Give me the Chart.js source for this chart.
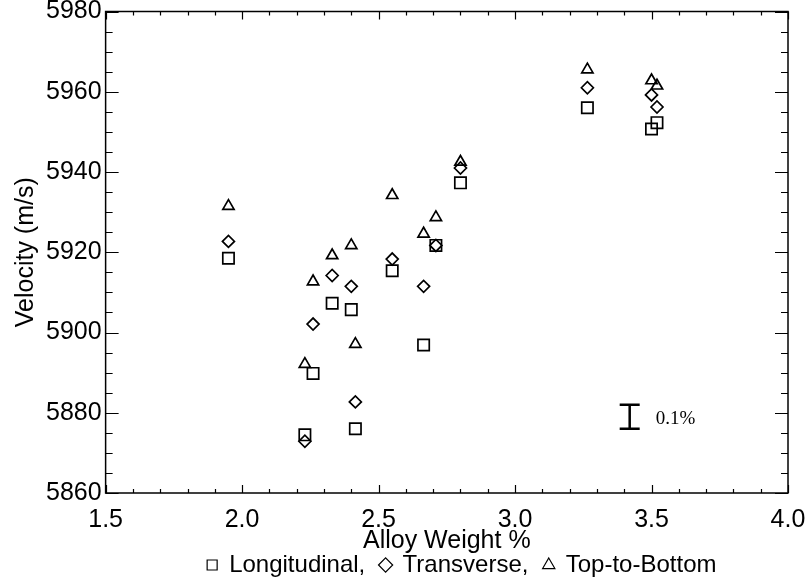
<!DOCTYPE html>
<html>
<head>
<meta charset="utf-8">
<title>Velocity vs Alloy Weight</title>
<script src="https://cdn.jsdelivr.net/npm/chart.js@4.4.1/dist/chart.umd.min.js"></script>
<style>
    html, body { margin: 0; padding: 0; background: #fff; }
    #wrap { width: 810px; height: 577px; }
</style>
</head>
<body>
<div id="wrap"><canvas id="chart"></canvas></div>
<script>
// Alloy weight % of each sample (same order in every series)
const alloyWeight = [1.95, 2.23, 2.26, 2.33, 2.40, 2.415, 2.55, 2.665, 2.71, 2.80, 3.265, 3.50, 3.52];

// Velocity (m/s) per direction
const longitudinal = [5918.5, 5874.5, 5889.8, 5907.3, 5905.7, 5876.0, 5915.4, 5896.9, 5921.7, 5937.3, 5956.0, 5950.7, 5952.3];
const transverse   = [5922.7, 5872.9, 5902.1, 5914.2, 5911.5, 5882.7, 5918.3, 5911.5, 5921.7, 5941.0, 5961.0, 5959.2, 5956.2];
const topToBottom  = [5931.5, 5892.1, 5912.7, 5919.2, 5921.7, 5897.1, 5934.2, 5924.6, 5928.7, 5942.5, 5965.5, 5962.8, 5961.5];

const seriesLabels = ['Longitudinal', 'Transverse', 'Top-to-Bottom'];

// Axis ranges and ticks
const xRange = [1.5, 4.0];
const yRange = [5860, 5980];
const xMajorStep = 0.5, xMinorStep = 0.1;
const yMajorStep = 20, yMinorStep = 5;

// 0.1% error bar marker
const errX = 3.42;
const errLow = 5876;
const errHigh = 5882;
const errLabel = '0.1%';

const SANS = '"Liberation Sans", Arial, Helvetica, sans-serif';

function toPoints(values) {
    return values.map((v, i) => ({x: alloyWeight[i], y: v}));
}

// Box around the plot with inward ticks on all four sides, plus the error bar
const frameTicks = {
    id: 'frameTicks',
    afterLayout(chart) {
        // legend sits a little right of the plot centre in the original
        const lg = chart.legend;
        if (lg) { lg.left += 15; lg.right += 15; }
    },
    afterDatasetsDraw(chart) {
        const {ctx, chartArea: a, scales: {x, y}} = chart;
        ctx.save();
        ctx.strokeStyle = '#000';
        ctx.lineWidth = 1.2;
        ctx.beginPath();

        let n = Math.round((x.max - x.min) / xMinorStep);
        for (let i = 0; i <= n; i++) {
            const v = x.min + i * xMinorStep;
            const major = Math.abs(v / xMajorStep - Math.round(v / xMajorStep)) < 1e-6;
            const len = major ? 8 : 4;
            const px = Math.round(x.getPixelForValue(v)) + 0.5;
            ctx.moveTo(px, a.bottom); ctx.lineTo(px, a.bottom - len);
            ctx.moveTo(px, a.top); ctx.lineTo(px, a.top + len);
        }

        n = Math.round((y.max - y.min) / yMinorStep);
        for (let i = 0; i <= n; i++) {
            const v = y.min + i * yMinorStep;
            const major = Math.abs(v / yMajorStep - Math.round(v / yMajorStep)) < 1e-6;
            const len = major ? 13 : 7;
            const py = Math.round(y.getPixelForValue(v)) + 0.5;
            ctx.moveTo(a.left, py); ctx.lineTo(a.left + len, py);
            ctx.moveTo(a.right, py); ctx.lineTo(a.right - len, py);
        }
        ctx.stroke();

        ctx.lineWidth = 1.5;
        ctx.strokeRect(a.left, a.top, a.right - a.left, a.bottom - a.top);

        // error bar
        const ex = x.getPixelForValue(errX);
        const yTop = y.getPixelForValue(errHigh);
        const yBot = y.getPixelForValue(errLow);
        ctx.lineWidth = 2.5;
        ctx.beginPath();
        ctx.moveTo(ex, yTop); ctx.lineTo(ex, yBot);
        ctx.moveTo(ex - 10, yTop); ctx.lineTo(ex + 10, yTop);
        ctx.moveTo(ex - 10, yBot); ctx.lineTo(ex + 10, yBot);
        ctx.stroke();

        ctx.fillStyle = '#000';
        ctx.font = '19px "Liberation Serif", "Times New Roman", serif';
        ctx.textAlign = 'left';
        ctx.textBaseline = 'middle';
        ctx.fillText(errLabel, ex + 26, (yTop + yBot) / 2 + 2);
        ctx.restore();
    }
};

const ctx = document.getElementById('chart').getContext('2d');

new Chart(ctx, {
    type: 'scatter',
    data: {
        datasets: [{
            label: seriesLabels[0],
            data: toPoints(longitudinal),
            pointStyle: 'rect',
            pointRadius: 8,
            borderColor: '#000',
            backgroundColor: 'rgba(0,0,0,0)',
            borderWidth: 1.7
        }, {
            label: seriesLabels[1],
            data: toPoints(transverse),
            pointStyle: 'rectRot',
            pointRadius: 6,
            borderColor: '#000',
            backgroundColor: 'rgba(0,0,0,0)',
            borderWidth: 1.7
        }, {
            label: seriesLabels[2],
            data: toPoints(topToBottom),
            pointStyle: 'triangle',
            pointRadius: 6.5,
            borderColor: '#000',
            backgroundColor: 'rgba(0,0,0,0)',
            borderWidth: 1.7
        }]
    },
    options: {
        responsive: true,
        maintainAspectRatio: false,
        animation: false,
        layout: {
            padding: {left: 14, right: 22, top: 0, bottom: -10}
        },
        scales: {
            x: {
                type: 'linear',
                min: xRange[0], max: xRange[1],
                grid: {display: false, drawTicks: false},
                border: {display: false},
                afterFit: scale => { scale.paddingRight = 0; },
                ticks: {
                    stepSize: xMajorStep,
                    padding: 15,
                    color: '#000',
                    font: {family: SANS, size: 25, lineHeight: 1},
                    callback: v => v.toFixed(1)
                },
                title: {
                    display: true,
                    text: 'Alloy Weight %',
                    color: '#000',
                    font: {family: SANS, size: 25, lineHeight: 1},
                    padding: {top: -19, bottom: -3}
                }
            },
            y: {
                type: 'linear',
                min: yRange[0], max: yRange[1],
                grid: {display: false, drawTicks: false},
                border: {display: false},
                ticks: {
                    stepSize: yMajorStep,
                    padding: 4,
                    color: '#000',
                    font: {family: SANS, size: 25, lineHeight: 0.6},
                    callback: v => String(v)
                },
                title: {
                    display: true,
                    text: 'Velocity (m/s)',
                    color: '#000',
                    font: {family: SANS, size: 25, lineHeight: 1},
                    padding: {top: 0, bottom: 3}
                }
            }
        },
        plugins: {
            tooltip: {enabled: false},
            legend: {
                position: 'bottom',
                fullSize: false,
                labels: {
                    color: '#000',
                    font: {family: SANS, size: 24, lineHeight: 1},
                    usePointStyle: true,
                    boxWidth: 10,
                    boxHeight: 10,
                    padding: 2,
                    generateLabels: function (chart) {
                        const items = Chart.defaults.plugins.legend.labels.generateLabels(chart);
                        items.forEach((item, i) => {
                            if (i < items.length - 1) item.text += ',  ';
                            item.fillStyle = 'rgba(0,0,0,0)';
                            item.strokeStyle = '#000';
                            item.lineWidth = 1.2;
                        });
                        return items;
                    }
                }
            }
        }
    },
    plugins: [frameTicks]
});
</script>
</body>
</html>
